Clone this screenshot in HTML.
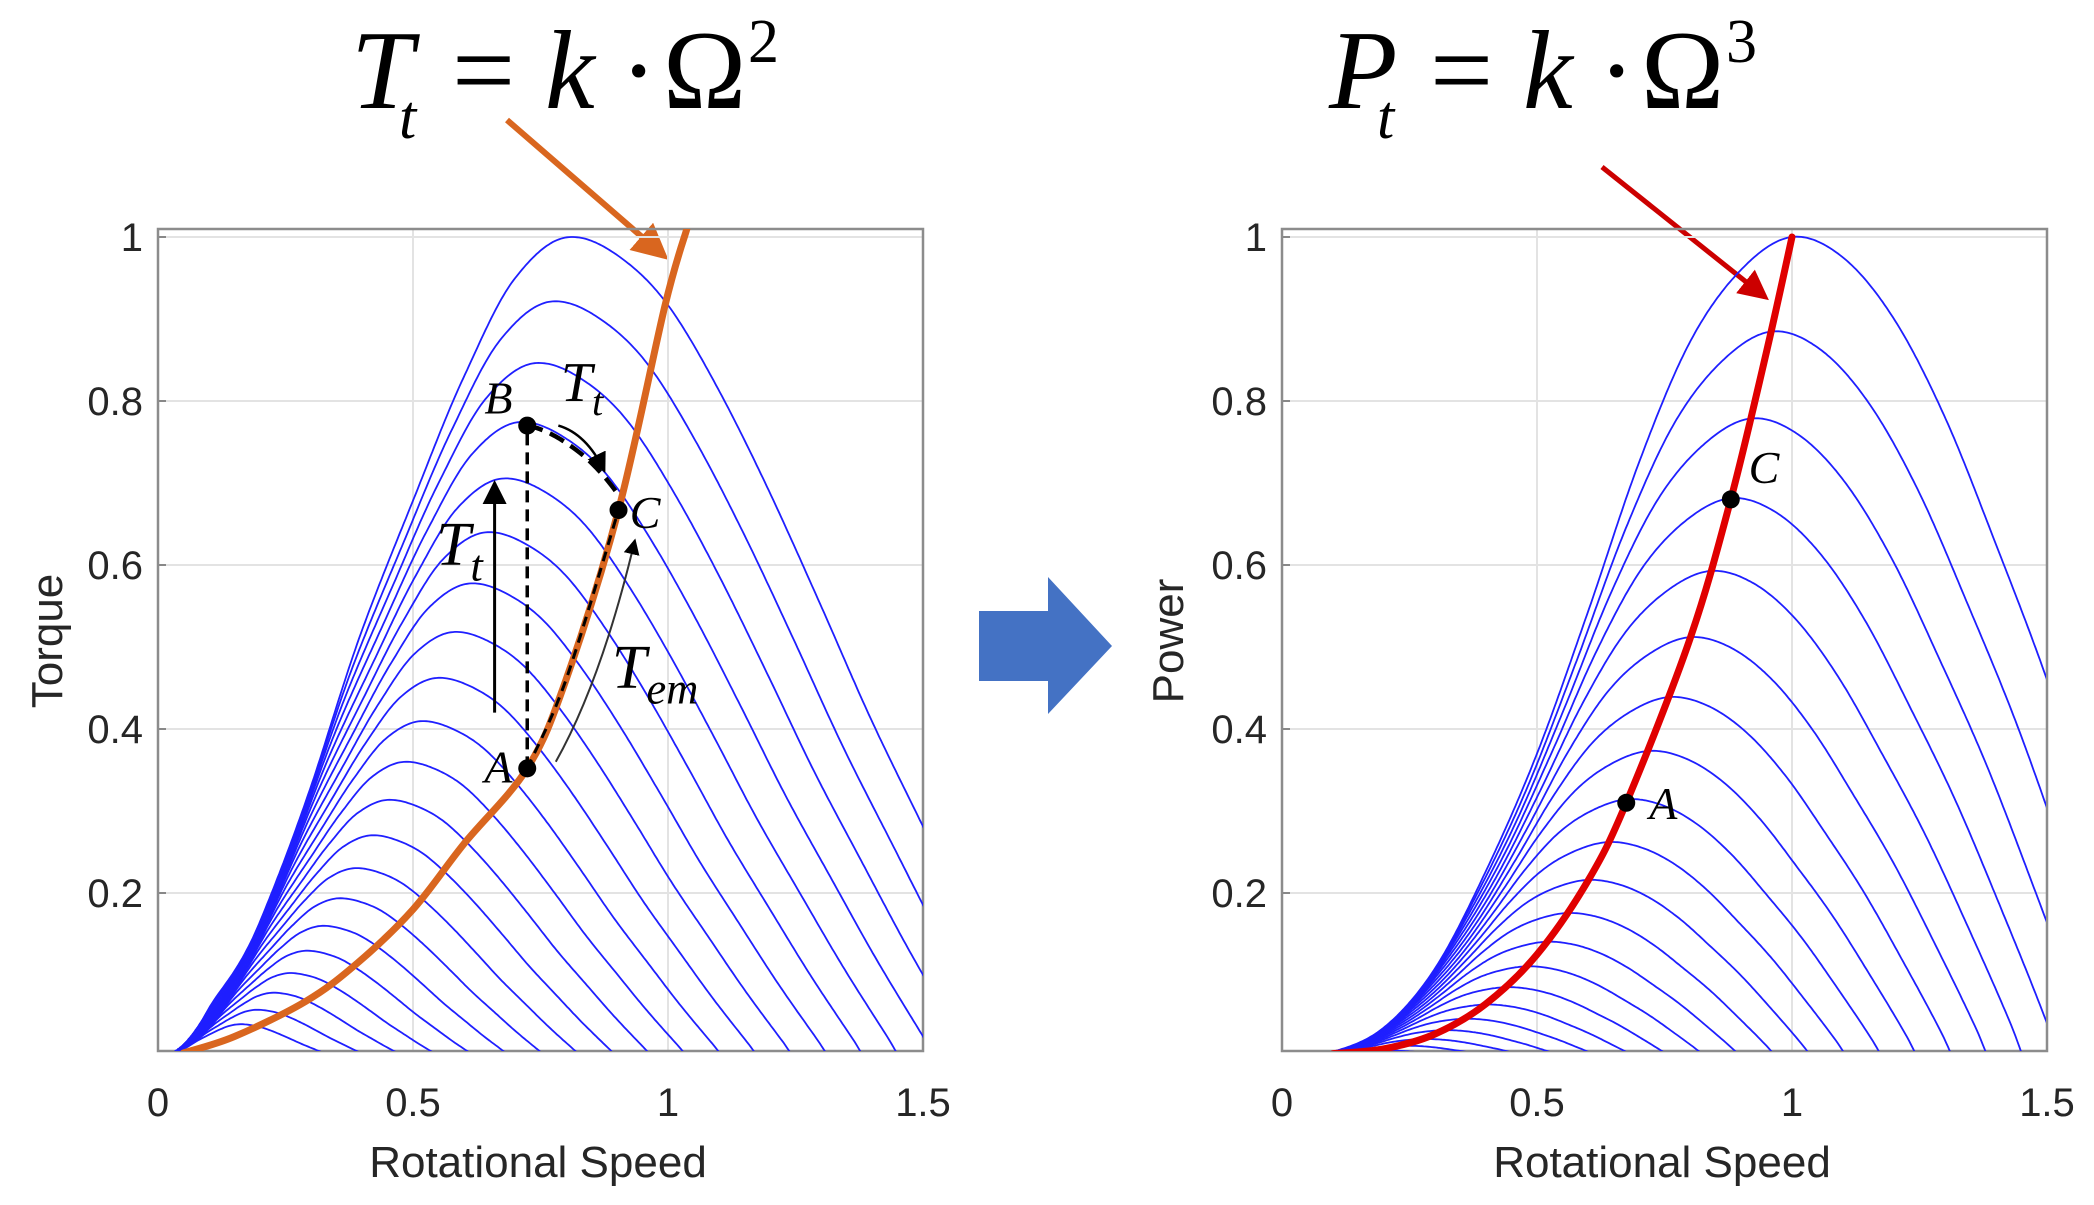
<!DOCTYPE html>
<html><head><meta charset="utf-8">
<style>
html,body{margin:0;padding:0;background:#fff;width:2094px;height:1205px;overflow:hidden;}
svg{display:block;}
.tick{font-family:"Liberation Sans",Arial,sans-serif;font-size:40px;fill:#262626;}
.atitle{font-family:"Liberation Sans",Arial,sans-serif;font-size:44px;fill:#262626;}
.math{font-family:"Liberation Serif","Times New Roman",serif;fill:#000;}
</style></head>
<body>
<svg id="fig" width="2094" height="1205" viewBox="0 0 2094 1205" xmlns="http://www.w3.org/2000/svg">
<defs>
<clipPath id="clipL"><rect x="158" y="229" width="765" height="822"/></clipPath>
<clipPath id="clipR"><rect x="1282" y="229" width="764" height="822"/></clipPath>
<marker id="ahO" markerWidth="6" markerHeight="6" refX="5" refY="3" orient="auto" markerUnits="strokeWidth"><path d="M0,0 L6,3 L0,6 z" fill="#d9661f"/></marker>
<marker id="ahR" markerWidth="6" markerHeight="6" refX="5" refY="3" orient="auto" markerUnits="strokeWidth"><path d="M0,0 L6,3 L0,6 z" fill="#cc0000"/></marker>
<marker id="ahK" markerWidth="8" markerHeight="8" refX="7" refY="4" orient="auto" markerUnits="strokeWidth"><path d="M0,0 L8,4 L0,8 z" fill="#000"/></marker>
</defs>

<g>
<text class="math" x="351" y="108" font-size="112" font-style="italic">T</text>
<text class="math" x="399" y="138" font-size="62" font-style="italic">t</text>
<text class="math" x="452" y="108" font-size="112">=</text>
<text class="math" x="545" y="108" font-size="112" font-style="italic">k</text>
<text class="math" x="620" y="108" font-size="112">·</text>
<text class="math" x="663" y="108" font-size="112">Ω</text>
<text class="math" x="748" y="62" font-size="62">2</text>
</g>
<g>
<text class="math" x="1329" y="108" font-size="112" font-style="italic">P</text>
<text class="math" x="1377" y="138" font-size="62" font-style="italic">t</text>
<text class="math" x="1430" y="108" font-size="112">=</text>
<text class="math" x="1523" y="108" font-size="112" font-style="italic">k</text>
<text class="math" x="1598" y="108" font-size="112">·</text>
<text class="math" x="1641" y="108" font-size="112">Ω</text>
<text class="math" x="1726" y="62" font-size="62">3</text>
</g>

<line x1="507" y1="120" x2="664" y2="256" stroke="#d9661f" stroke-width="6" marker-end="url(#ahO)"/>
<line x1="1602" y1="167" x2="1765" y2="297" stroke="#cc0000" stroke-width="5" marker-end="url(#ahR)"/>

<polygon points="979,611 1048,611 1048,577 1112,646 1048,714 1048,681 979,681" fill="#4472c4"/>

<g id="left"></g>
<g id="right"></g>
</svg>

<script>
const windSpeeds = [1.00,0.96,0.92,0.88,0.84,0.80,0.76,0.72,0.68,0.64,0.60,0.56,0.52,0.48,0.44,0.40,0.36,0.32,0.28,0.24,0.20];
const cpShapeR = [0,0.1,0.2,0.3,0.4,0.5,0.6,0.7,0.8,0.9,1.0,1.1,1.2,1.3,1.4,1.5,1.6,1.7,1.8];
const cpShapeV = [0,0.0065,0.036,0.108,0.227,0.37,0.543,0.725,0.872,0.96,1.0,0.975,0.90,0.78,0.625,0.46,0.27,0.07,-0.15];
const torqueLineOmega = [0.05,0.15,0.29,0.39,0.5,0.6,0.724,0.8,0.903,0.994,1.037];
const torqueLineValue = [0.005,0.025,0.068,0.114,0.18,0.26,0.352,0.46,0.667,0.916,1.01];
const powerLineOmega = [0.1,0.2,0.3,0.4,0.5,0.6,0.675,0.8,0.88,0.95,1.0];
const powerLineValue = [0.004,0.01,0.028,0.065,0.125,0.215,0.31,0.51,0.68,0.86,1.0];
const xTicks = [0,0.5,1,1.5];
const xTickLabels = ["0","0.5","1","1.5"];
const yTicks = [0.2,0.4,0.6,0.8,1];
const yTickLabels = ["0.2","0.4","0.6","0.8","1"];
const pointsLeftNames = ["A","B","C"];
const pointsLeftOmega = [0.724,0.724,0.903];
const pointsLeftValue = [0.352,0.77,0.667];
const pointsRightNames = ["A","C"];
const pointsRightOmega = [0.675,0.88];
const pointsRightValue = [0.31,0.68];

const NS = "http://www.w3.org/2000/svg";
function mk(tag, attrs, parent){const e=document.createElementNS(NS,tag);for(const k in attrs)e.setAttribute(k,attrs[k]);parent.appendChild(e);return e;}

function cpShape(r){
  const h=0.1, n=cpShapeV.length;
  if(r<=0) return 0;
  if(r<0.1) return cpShapeV[1]*Math.pow(r/0.1,3);
  if(r>=cpShapeR[n-1]) return cpShapeV[n-1]+(r-cpShapeR[n-1])*(cpShapeV[n-1]-cpShapeV[n-2])/h;
  const i=Math.floor(r/h), t=r/h-i;
  const p0=cpShapeV[Math.max(i-1,0)], p1=cpShapeV[i], p2=cpShapeV[i+1], p3=cpShapeV[Math.min(i+2,n-1)];
  return 0.5*((2*p1)+(-p0+p2)*t+(2*p0-5*p1+4*p2-p3)*t*t+(-p0+3*p1-3*p2+p3)*t*t*t);
}
let torqueNorm=0;
for(let r=0.01;r<1.5;r+=0.005){torqueNorm=Math.max(torqueNorm,cpShape(r)/r);}
function powerAt(v,om){return v*v*v*cpShape(om/v);}
function torqueAt(v,om){return v*v*cpShape(om/v)/(om/v)/torqueNorm;}

function makeAxes(g, x0, clipId, yTitle, yTitleX){
  const X=o=>x0+o*510, Y=t=>237+(1-t)*820;
  const top=229,bot=1051,right=x0+765;
  yTicks.forEach((t,i)=>{
    const gl=mk('line',{x1:x0,x2:right,y1:Y(t),y2:Y(t),stroke:'#e3e3e3','stroke-width':2},g);
    
    
    const tl=mk('text',{x:x0-15,y:Y(t)+14,'text-anchor':'end',class:'tick'},g);
    tl.textContent=yTickLabels[i];
    
    
    mk('line',{x1:x0,x2:x0+8,y1:Y(t),y2:Y(t),stroke:'#888','stroke-width':2},g);
  });
  xTicks.forEach((o,i)=>{
    const gl=mk('line',{x1:X(o),x2:X(o),y1:top,y2:bot,stroke:'#e3e3e3','stroke-width':2},g);
    
    
    const tl=mk('text',{x:X(o),y:1116,'text-anchor':'middle',class:'tick'},g);
    tl.textContent=xTickLabels[i];
    
    
  });
  const fr=mk('rect',{x:x0,y:top,width:765,height:bot-top,fill:'none',stroke:'#8c8c8c','stroke-width':2.5},g);
  
  
  const xt=mk('text',{x:x0+380,y:1177,'text-anchor':'middle',class:'atitle'},g);
  xt.textContent='Rotational Speed';
  
  
  const yt=mk('text',{x:0,y:0,'text-anchor':'middle',class:'atitle',transform:`translate(${yTitleX},641) rotate(-90)`},g);
  yt.textContent=yTitle;
  
  
  const plot=mk('g',{'clip-path':`url(#${clipId})`},g);
  return {X,Y,plot};
}
function linePath(X,Y,xs,ys){return xs.map((x,i)=>(i?'L':'M')+X(x).toFixed(1)+','+Y(ys[i]).toFixed(1)).join(' ');}
function smoothPath(X,Y,xs,ys){
  const P=xs.map((x,i)=>[X(x),Y(ys[i])]);
  let d='M'+P[0][0].toFixed(1)+','+P[0][1].toFixed(1);
  for(let i=0;i<P.length-1;i++){
    const p0=P[Math.max(i-1,0)],p1=P[i],p2=P[i+1],p3=P[Math.min(i+2,P.length-1)];
    const c1=[p1[0]+(p2[0]-p0[0])/6,p1[1]+(p2[1]-p0[1])/6];
    const c2=[p2[0]-(p3[0]-p1[0])/6,p2[1]-(p3[1]-p1[1])/6];
    d+=` C${c1[0].toFixed(1)},${c1[1].toFixed(1)} ${c2[0].toFixed(1)},${c2[1].toFixed(1)} ${p2[0].toFixed(1)},${p2[1].toFixed(1)}`;
  }
  return d;
}

const L=document.getElementById('left');
const la=makeAxes(L,158,'clipL','Torque',62);
windSpeeds.forEach((v,i)=>{
  const xs=[],ys=[];
  for(let om=0.002;om<=1.52;om+=0.004){xs.push(om);ys.push(torqueAt(v,om));}
  const p=mk('path',{d:linePath(la.X,la.Y,xs,ys),fill:'none',stroke:'#1f1fff','stroke-width':1.8},la.plot);
  
  
});
const ol=mk('path',{d:smoothPath(la.X,la.Y,torqueLineOmega,torqueLineValue),fill:'none',stroke:'#d9661f','stroke-width':7,'stroke-linecap':'round','stroke-linejoin':'round'},la.plot);


const ann=mk('g',{},L);


mk('line',{x1:la.X(pointsLeftOmega[0]),y1:la.Y(pointsLeftValue[0]),x2:la.X(pointsLeftOmega[1]),y2:la.Y(pointsLeftValue[1]),stroke:'#000','stroke-width':3.5,'stroke-dasharray':'12,7'},ann);
{
  const vB=Math.sqrt(pointsLeftValue[1]);const xs=[],ys=[];
  for(let om=pointsLeftOmega[1];om<=pointsLeftOmega[2];om+=0.005){xs.push(om);ys.push(torqueAt(vB,om));}
  mk('path',{d:linePath(la.X,la.Y,xs,ys),fill:'none',stroke:'#000','stroke-width':4.5,'stroke-dasharray':'16,8'},ann);
  const xs2=[],ys2=[];
  for(let k=0;k<torqueLineOmega.length;k++){if(torqueLineOmega[k]>=0.72&&torqueLineOmega[k]<=0.91){xs2.push(torqueLineOmega[k]);ys2.push(torqueLineValue[k]);}}
  mk('path',{d:smoothPath(la.X,la.Y,xs2,ys2),fill:'none',stroke:'#000','stroke-width':3,'stroke-dasharray':'10,7'},ann);
}
mk('line',{x1:la.X(0.66),y1:la.Y(0.42),x2:la.X(0.66),y2:la.Y(0.70),stroke:'#000','stroke-width':3,'marker-end':'url(#ahK)'},ann);
mk('path',{d:`M${la.X(0.785)},${la.Y(0.77)} Q${la.X(0.84)},${la.Y(0.76)} ${la.X(0.875)},${la.Y(0.715)}`,fill:'none',stroke:'#000','stroke-width':2.5,'marker-end':'url(#ahK)'},ann);
mk('path',{d:`M${la.X(0.78)},${la.Y(0.36)} Q${la.X(0.87)},${la.Y(0.46)} ${la.X(0.935)},${la.Y(0.63)}`,fill:'none',stroke:'#333','stroke-width':2,'marker-end':'url(#ahK)'},ann);
function mathLabel(g,x,y,main,sub,size){
  const t=mk('text',{x:x,y:y,class:'math','font-size':size,'font-style':'italic'},g);
  t.textContent=main;
  if(sub){const s=mk('tspan',{dy:size*0.25,'font-size':size*0.72},t);s.textContent=sub;}
  return t;
}
mathLabel(ann,la.X(0.545),la.Y(0.6),'T','t',62);
mathLabel(ann,la.X(0.79),la.Y(0.8),'T','t',56);
mathLabel(ann,la.X(0.89),la.Y(0.45),'T','em',62);
pointsLeftNames.forEach((n,i)=>{
  const c=mk('circle',{cx:la.X(pointsLeftOmega[i]),cy:la.Y(pointsLeftValue[i]),r:9,fill:'#000'},ann);
  
  
});
mathLabel(ann,la.X(0.64),la.Y(0.335),'A',null,46);
mathLabel(ann,la.X(0.64),la.Y(0.785),'B',null,46);
mathLabel(ann,la.X(0.925),la.Y(0.645),'C',null,46);

const R=document.getElementById('right');
const ra=makeAxes(R,1282,'clipR','Power',1183);
windSpeeds.forEach((v,i)=>{
  const xs=[],ys=[];
  for(let om=0.002;om<=1.52;om+=0.004){xs.push(om);ys.push(powerAt(v,om));}
  const p=mk('path',{d:linePath(ra.X,ra.Y,xs,ys),fill:'none',stroke:'#1f1fff','stroke-width':1.8},ra.plot);
  
  
});
const rl=mk('path',{d:smoothPath(ra.X,ra.Y,powerLineOmega,powerLineValue),fill:'none',stroke:'#e00000','stroke-width':7,'stroke-linecap':'round','stroke-linejoin':'round'},ra.plot);


const ann2=mk('g',{},R);


pointsRightNames.forEach((n,i)=>{
  const c=mk('circle',{cx:ra.X(pointsRightOmega[i]),cy:ra.Y(pointsRightValue[i]),r:9,fill:'#000'},ann2);
  
  
});
mathLabel(ann2,ra.X(0.72),ra.Y(0.29),'A',null,46);
mathLabel(ann2,ra.X(0.915),ra.Y(0.7),'C',null,46);
</script>
</body></html>
